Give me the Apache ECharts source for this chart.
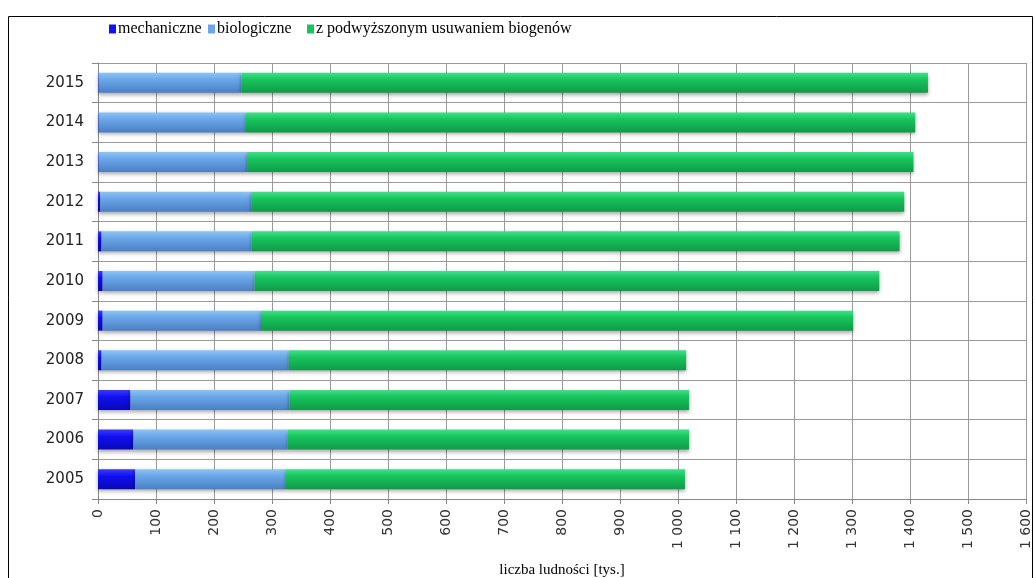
<!DOCTYPE html>
<html><head><meta charset="utf-8">
<script src="https://cdn.jsdelivr.net/npm/echarts@6/dist/echarts.min.js"></script>
<style>html,body{margin:0;padding:0;background:#fff}#c{width:1035px;height:578px}</style>
</head><body><div id="c"></div>
<script>
const years = ['2005','2006','2007','2008','2009','2010','2011','2012','2013','2014','2015'];
const mechaniczne = [64, 61, 56, 6, 8, 8, 6, 4, 1, 1, 1];
const biologiczne = [260, 266, 274, 323, 273, 262, 259, 260, 256, 254, 246];
const biogeny = [688, 692, 689, 685, 1021, 1077, 1117, 1126, 1149, 1154, 1184];
const seriesNames = ['mechaniczne', 'biologiczne', 'z podwyższonym usuwaniem biogenów'];
const xTicks = {min: 0, max: 1600, interval: 100};

function grad(top, mid, bot) {
  return new echarts.graphic.LinearGradient(0, 0, 0, 1, [
    {offset: 0, color: top}, {offset: 0.35, color: mid}, {offset: 1, color: bot}
  ]);
}
const colors = [
  grad('#3a3aff', '#1010f0', '#0808b8'),
  grad('#8cc4f4', '#6aa6e8', '#4a7fc4'),
  grad('#3fe08a', '#17c45c', '#0f9a48')
];
const solid = ['#1212ee', '#6aa6e8', '#17c45c'];
const dataArr = [mechaniczne, biologiczne, biogeny];

const chart = echarts.init(document.getElementById('c'));
const legendLefts = [104, 203, 302];
chart.setOption({
  animation: false,
  graphic: [{type: 'rect', shape: {x: 8.5, y: 16.5, width: 1024, height: 620},
    style: {fill: 'none', stroke: '#000', lineWidth: 1}, silent: true}],
  legend: seriesNames.map((n, i) => ({
    data: [{name: n, itemStyle: {color: solid[i]}}],
    left: legendLefts[i], top: 16, itemWidth: 7, itemHeight: 9, itemGap: 2,
    icon: 'rect',
    textStyle: {fontFamily: 'Liberation Serif', fontSize: 16, color: '#000', padding: [0,0,0,-3]}
  })),
  grid: {left: 98, right: 9, top: 63, bottom: 79, containLabel: false, outerBoundsMode: 'none'},
  xAxis: {
    type: 'value', min: xTicks.min, max: xTicks.max, interval: xTicks.interval,
    name: 'liczba ludności [tys.]', nameLocation: 'middle', nameGap: 64,
    nameTextStyle: {fontFamily: 'Liberation Serif', fontSize: 15, color: '#000'},
    axisLine: {show: true, lineStyle: {color: '#888'}},
    axisTick: {show: true, length: 5, lineStyle: {color: '#888'}},
    splitLine: {show: true, lineStyle: {color: '#9a9a9a', width: 1}},
    axisLabel: {rotate: 90, margin: 10, fontFamily: 'DejaVu Sans', fontSize: 14, color: '#333',
      formatter: v => v >= 1000 ? String(v).replace(/(\d)(\d{3})$/, '$1 $2') : String(v)}
  },
  yAxis: {
    type: 'category', data: years,
    axisLine: {show: true, lineStyle: {color: '#888'}},
    axisTick: {show: true, length: 6, lineStyle: {color: '#888'}},
    splitLine: {show: true, lineStyle: {color: '#9a9a9a', width: 1}},
    axisLabel: {margin: 14, fontFamily: 'DejaVu Sans', fontSize: 15, color: '#222'}
  },
  series: seriesNames.map((n, i) => ({
    name: n, type: 'bar', stack: 'total', data: dataArr[i], barWidth: 20,
    itemStyle: {color: colors[i], shadowColor: 'rgba(0,0,0,0.35)', shadowBlur: 4, shadowOffsetY: 2}
  }))
});
</script></body></html>
